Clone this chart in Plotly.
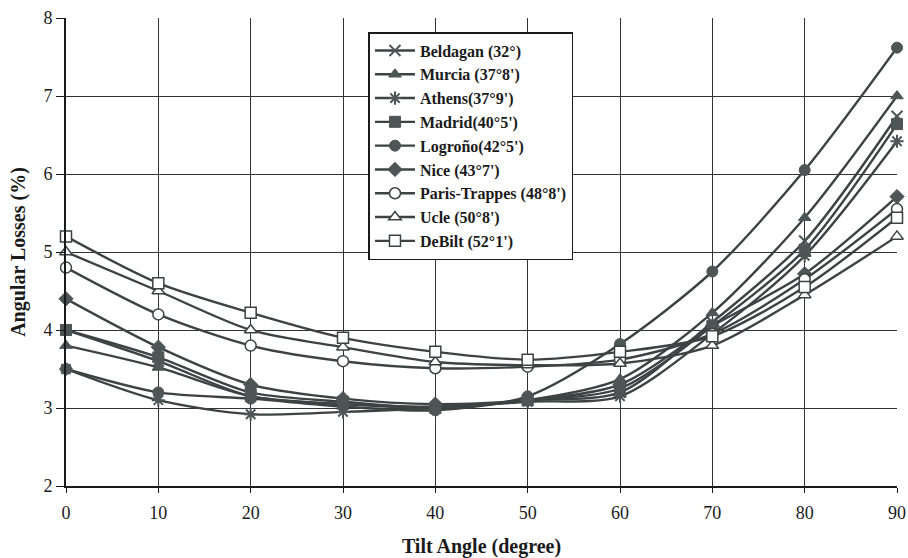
import plotly.graph_objects as go

tilt = [0, 10, 20, 30, 40, 50, 60, 70, 80, 90]

beldagan = [4.0, 3.60, 3.15, 3.05, 3.00, 3.10, 3.20, 4.10, 5.14, 6.74]
murcia   = [3.8, 3.52, 3.15, 3.05, 3.02, 3.10, 3.37, 4.22, 5.44, 7.00]
athens   = [3.5, 3.10, 2.92, 2.95, 3.00, 3.08, 3.15, 3.95, 4.95, 6.42]
madrid   = [4.0, 3.65, 3.20, 3.08, 3.00, 3.10, 3.25, 4.05, 5.03, 6.64]
logrono  = [3.5, 3.20, 3.12, 3.02, 2.97, 3.15, 3.82, 4.75, 6.05, 7.62]
nice     = [4.4, 3.78, 3.30, 3.12, 3.05, 3.10, 3.30, 4.05, 4.72, 5.71]
paris    = [4.8, 4.20, 3.80, 3.60, 3.51, 3.53, 3.62, 3.95, 4.65, 5.55]
ucle     = [5.0, 4.50, 4.00, 3.78, 3.59, 3.55, 3.57, 3.80, 4.45, 5.20]
debilt   = [5.2, 4.60, 4.22, 3.90, 3.72, 3.62, 3.72, 3.92, 4.55, 5.44]

names = ["Beldagan (32°)", "Murcia (37°8')", "Athens(37°9')", "Madrid(40°5')",
         "Logroño(42°5')", "Nice (43°7')", "Paris-Trappes (48°8')", "Ucle (50°8')",
         "DeBilt (52°1')"]
series = [beldagan, murcia, athens, madrid, logrono, nice, paris, ucle, debilt]
symbols = ["x-thin", "triangle-up", "asterisk", "square", "circle", "diamond",
           "circle", "triangle-up", "square"]
filled = [True, True, True, True, True, True, False, False, False]

LINE = "#3d4343"
FILL = "#4d5555"

fig = go.Figure()
for name, ys, sym, f in zip(names, series, symbols, filled):
    if sym in ("x-thin", "asterisk"):
        marker = dict(symbol=sym, size=11, color=FILL, line=dict(color=FILL, width=2))
    elif f:
        marker = dict(symbol=sym, size=11, color=FILL, line=dict(color=FILL, width=1))
    else:
        marker = dict(symbol=sym, size=11, color="white", line=dict(color=LINE, width=1.5))
    fig.add_trace(go.Scatter(
        x=tilt, y=ys, name=name, mode="lines+markers",
        line=dict(color=LINE, width=2.4, shape="spline", smoothing=0.8),
        marker=marker, cliponaxis=False,
    ))

serif = "Liberation Serif, DejaVu Serif, serif"
fig.update_layout(
    width=908, height=558,
    margin=dict(l=66, r=11, t=18, b=72),
    paper_bgcolor="white", plot_bgcolor="white",
    font=dict(family=serif, color="#1a1a1a", size=16),
    showlegend=True,
    legend=dict(
        x=0.364, y=0.97, xanchor="left", yanchor="top",
        bgcolor="white", bordercolor="#1a1a1a", borderwidth=1.5,
        font=dict(family=serif, size=16, color="#1a1a1a", weight="bold"),
        tracegroupgap=0, itemwidth=40,
    ),
    xaxis=dict(
        range=[0, 90], dtick=10, tick0=0,
        showgrid=True, gridcolor="#333", gridwidth=1.2,
        showline=True, linecolor="#1a1a1a", linewidth=2, mirror=False,
        ticks="outside", ticklen=5, tickcolor="#1a1a1a",
        ticklabelstandoff=4, automargin=False,
        zeroline=False,
        title=dict(text="Tilt Angle (degree)", font=dict(family=serif, size=20, weight="bold"), standoff=18),
        tickfont=dict(family=serif, size=18),
    ),
    yaxis=dict(
        range=[2, 8], dtick=1,
        showgrid=True, gridcolor="#333", gridwidth=1.2,
        showline=True, linecolor="#1a1a1a", linewidth=2,
        ticks="outside", ticklen=8, tickcolor="#1a1a1a",
        zeroline=False, automargin=False,
        title=dict(text="Angular Losses (%)", font=dict(family=serif, size=20, weight="bold"), standoff=12),
        tickfont=dict(family=serif, size=18),
    ),
)

fig.write_html("out.html")
